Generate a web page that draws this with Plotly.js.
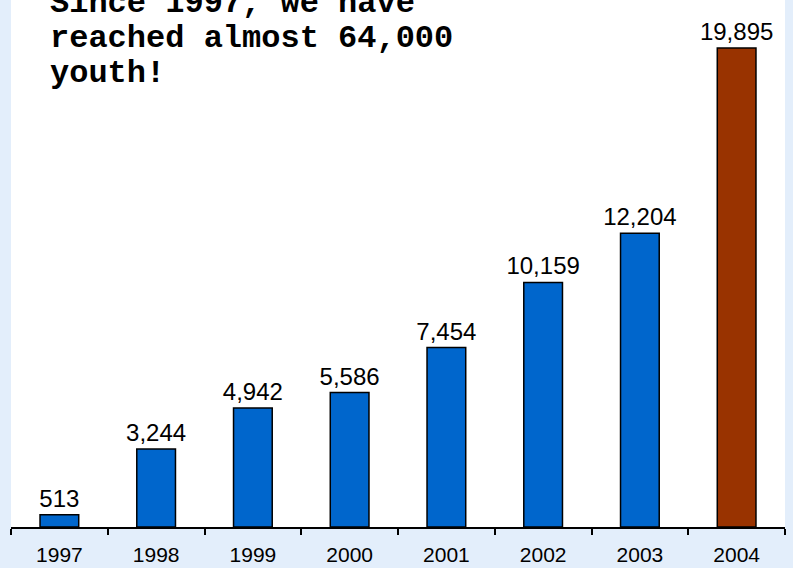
<!DOCTYPE html>
<html>
<head>
<meta charset="utf-8">
<script src="https://cdn.plot.ly/plotly-3.0.1.min.js"></script>
<style>
html,body{margin:0;padding:0;background:#E3EEFB;}
#chart{width:793px;height:568px;}
</style>
</head>
<body>
<div id="chart"></div>
<script>
const years = ['1997','1998','1999','2000','2001','2002','2003','2004'];
const youthReached = [513, 3244, 4942, 5586, 7454, 10159, 12204, 19895];
const headlineLines = ['Since 1997, we have', 'reached almost 64,000', 'youth!'];

const barColors = years.map((y, i) => i === years.length - 1 ? '#993300' : '#0066CC');
const labels = youthReached.map(v => v.toLocaleString('en-US'));

const trace = {
  type: 'bar',
  x: years,
  y: youthReached,
  width: 0.4,
  marker: {color: barColors, line: {color: '#000000', width: 1.5}},
  text: labels,
  textposition: 'outside',
  constraintext: 'none',
  cliponaxis: false,
  textfont: {family: 'Liberation Sans, Arial, sans-serif', size: 24, color: '#000000'},
  hoverinfo: 'none'
};

const lineCenters = [3, 38, 73];
const plotH = 527;
const annotations = headlineLines.map((t, i) => ({
  text: '<b>' + t + '</b>',
  xref: 'paper', yref: 'paper',
  x: (48 - 11) / 773, xanchor: 'left',
  y: 1 - lineCenters[i] / plotH, yanchor: 'middle',
  showarrow: false,
  align: 'left',
  font: {family: 'Liberation Mono, Courier New, monospace', size: 32, color: '#000000'}
}));

const layout = {
  width: 793, height: 568,
  margin: {l: 11, r: 8, t: 0, b: 41, pad: 0},
  paper_bgcolor: '#E3EEFB',
  plot_bgcolor: '#FFFFFF',
  showlegend: false,
  bargap: 0.6,
  xaxis: {
    type: 'category',
    showline: true, linecolor: '#000000', linewidth: 2,
    ticks: 'outside', tickson: 'boundaries', ticklen: 6, tickcolor: '#000000', tickwidth: 2,
    ticklabelstandoff: 8,
    tickfont: {family: 'Liberation Sans, Arial, sans-serif', size: 21, color: '#000000'},
    showgrid: false, zeroline: false, fixedrange: true
  },
  yaxis: {
    range: [0, 21890],
    visible: false, showgrid: false, zeroline: false, fixedrange: true
  },
  annotations: annotations
};

Plotly.newPlot('chart', [trace], layout, {displayModeBar: false, staticPlot: true});
</script>
</body>
</html>
